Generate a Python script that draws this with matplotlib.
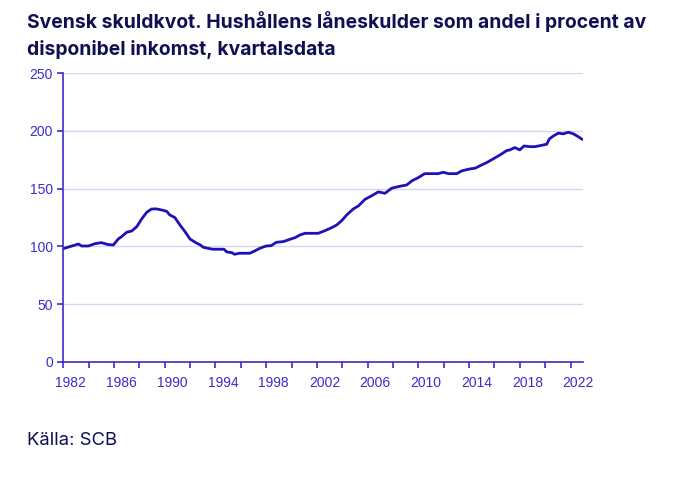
import matplotlib.pyplot as plt
from matplotlib.ticker import MultipleLocator

# Hushållens skuldkvot (år, procent)
years = [1982.08, 1983.2, 1983.45, 1983.97, 1984.5, 1985.0, 1985.55, 1985.95,
         1986.34, 1986.6, 1987.0, 1987.4, 1987.8, 1988.18, 1988.58, 1988.97,
         1989.37, 1989.76, 1990.15, 1990.4, 1990.8, 1991.2, 1991.6, 1991.99,
         1992.4, 1992.8, 1993.04, 1993.4, 1993.8, 1994.36, 1994.67, 1994.9,
         1995.3, 1995.5, 1995.9, 1996.7, 1997.1, 1997.5, 1998.0, 1998.4,
         1998.8, 1999.35, 1999.88, 2000.27, 2000.67, 2001.06, 2002.1, 2002.64,
         2003.17, 2003.56, 2003.96, 2004.35, 2004.87, 2005.27, 2005.8, 2006.3,
         2006.84, 2007.37, 2007.9, 2008.42, 2009.08, 2009.48, 2010.0, 2010.5,
         2011.57, 2011.97, 2012.36, 2013.03, 2013.42, 2014.07, 2014.47, 2015.0,
         2015.39, 2015.9, 2016.44, 2016.97, 2017.23, 2017.6, 2018.0, 2018.33,
         2018.8, 2019.2, 2019.6, 2020.12, 2020.33, 2020.65, 2021.04, 2021.43,
         2021.83, 2022.22, 2022.6, 2022.9]
skuldkvot = [98.3, 102.0, 100.3, 100.3, 102.3, 103.2, 101.5, 101.2,
             106.4, 108.4, 112.2, 113.3, 117.1, 123.7, 129.5, 132.4,
             132.4, 131.5, 130.4, 127.2, 124.9, 118.5, 112.7, 106.4,
             103.5, 101.2, 99.2, 98.3, 97.5, 97.5, 97.5, 95.1,
             94.5, 93.1, 94.0, 94.0, 96.0, 98.3, 100.3, 100.6,
             103.5, 104.1, 106.1, 107.5, 109.9, 111.3, 111.3, 113.6,
             116.2, 118.5, 122.3, 127.2, 132.4, 135.0, 140.8, 143.7,
             147.2, 146.0, 150.4, 151.8, 153.2, 156.7, 159.6, 163.0,
             163.0, 164.2, 163.0, 163.0, 165.4, 167.1, 167.7, 170.6,
             172.6, 175.8, 179.2, 183.0, 183.6, 185.6, 183.6, 187.0,
             186.4, 186.4, 187.3, 188.5, 193.1, 195.7, 198.1, 197.5,
             198.9, 197.5, 195.1, 192.9]

label_years = list(range(1982, 2023, 4))

navy = "#0f0f52"
axis_col = "#3a2ec8"
line_col = "#1f10b8"
grid_col = "#d6d4f2"

fig = plt.figure(figsize=(6.9, 4.78), dpi=100)
ax = fig.add_axes([0.0917, 0.2433, 0.7528, 0.6034])

ax.plot(years, skuldkvot, color=line_col, linewidth=2.0, solid_joinstyle="round")

ax.set_xlim(1982, 2022.96)
ax.set_ylim(0, 250)
ax.yaxis.set_major_locator(MultipleLocator(50))
ax.xaxis.set_major_locator(MultipleLocator(2))
ax.set_xticklabels([])
ax.grid(axis="y", color=grid_col, linewidth=1.0)
ax.set_axisbelow(True)

for s in ["top", "right"]:
    ax.spines[s].set_visible(False)
for s in ["left", "bottom"]:
    ax.spines[s].set_color(axis_col)
    ax.spines[s].set_linewidth(1.2)

ax.tick_params(axis="both", colors=axis_col, length=4, width=1.2,
               labelsize=10, labelcolor=axis_col)
for lbl in ax.get_yticklabels():
    lbl.set_family("Liberation Sans")

# årtal något till höger om strecken, som i originalet
for yr in label_years:
    ax.text(yr + 0.6, -0.05, str(yr), transform=ax.get_xaxis_transform(),
            ha="center", va="top", fontsize=10, color=axis_col,
            family="Liberation Sans")

fig.text(0.039, 0.942, "Svensk skuldkvot. Hushållens låneskulder som andel i procent av",
         fontsize=13.9, fontweight="bold", color=navy, family="Inter", va="baseline")
fig.text(0.039, 0.884, "disponibel inkomst, kvartalsdata",
         fontsize=13.9, fontweight="bold", color=navy, family="Inter", va="baseline")
fig.text(0.039, 0.07, "Källa: SCB", fontsize=13.3, color=navy, family="Inter")

fig.savefig("out.png", dpi=100)
